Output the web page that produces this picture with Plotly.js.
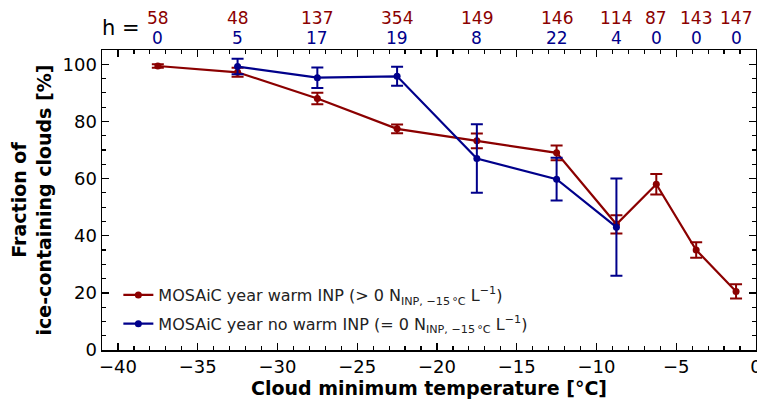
<!DOCTYPE html>
<html>
<head>
<meta charset="utf-8">
<script src="https://cdn.plot.ly/plotly-3.0.1.min.js"></script>
<style>html,body{margin:0;padding:0;background:#fff;}#plot{width:757px;height:405px;}</style>
</head>
<body>
<div id="plot"></div>
<script>
// Temperature bins (cloud minimum temperature, °C)
const tempWarm = [-37.5, -32.5, -27.5, -22.5, -17.5, -12.5, -8.75, -6.25, -3.75, -1.25];
const fracWarm = [99.4, 97.2, 88.0, 77.4, 73.2, 69.0, 44.0, 58.0, 35.0, 20.5];
const errWarm  = [0.6, 1.6, 2.0, 1.5, 2.6, 2.6, 3.2, 3.6, 2.7, 2.5];

const tempNoWarm = [-32.5, -27.5, -22.5, -17.5, -12.5, -8.75];
const fracNoWarm = [99.2, 95.3, 95.8, 67.0, 59.8, 43.0];
const errNoWarm  = [2.7, 3.6, 3.3, 12.0, 7.5, 17.0];

// Sample counts per bin (h)
const hTemps = [-37.5, -32.5, -27.5, -22.5, -17.5, -12.5, -8.75, -6.25, -3.75, -1.25];
const hWarm = [58, 48, 137, 354, 149, 146, 114, 87, 143, 147];
const hNoWarm = [0, 5, 17, 19, 8, 22, 4, 0, 0, 0];

const xTicks = [-40, -35, -30, -25, -20, -15, -10, -5, 0];
const yTicks = [0, 20, 40, 60, 80, 100];

const red = '#8b0000';
const blue = '#00008b';
const font = 'DejaVu Sans, sans-serif';
const xRange = [-41, 0.0005];
const yRange = [0, 105];

const traces = [
  {
    x: tempWarm, y: fracWarm, type: 'scatter', mode: 'lines+markers', legendgroup: 'a',
    name: 'MOSAiC year warm INP (&gt; 0 N<sub>INP, \u221215\u2009\u00b0C</sub> L<sup>\u22121</sup>)',
    line: {color: red, width: 2.2}, marker: {color: red, size: 7},
    error_y: {type: 'data', array: errWarm, visible: true, color: red, thickness: 2, width: 6}
  },
  {
    x: tempNoWarm, y: fracNoWarm, type: 'scatter', mode: 'lines+markers', legendgroup: 'b',
    name: 'MOSAiC year no warm INP (= 0 N<sub>INP, \u221215\u2009\u00b0C</sub> L<sup>\u22121</sup>)',
    line: {color: blue, width: 2.2}, marker: {color: blue, size: 7},
    error_y: {type: 'data', array: errNoWarm, visible: true, color: blue, thickness: 2, width: 6}
  },
  // invisible helper trace to activate the mirrored tick axes (top / right)
  {x: xRange, y: yRange, xaxis: 'x2', yaxis: 'y2', mode: 'markers', type: 'scatter',
   marker: {opacity: 0, size: 1}, showlegend: false, hoverinfo: 'skip'}
];

const annotations = [];
hTemps.forEach((t, i) => {
  annotations.push({x: t, y: 1.0, xref: 'x', yref: 'paper', yanchor: 'bottom', yshift: 20,
    text: String(hWarm[i]), showarrow: false, font: {family: font, size: 17, color: red}});
  annotations.push({x: t, y: 1.0, xref: 'x', yref: 'paper', yanchor: 'bottom', yshift: 0,
    text: String(hNoWarm[i]), showarrow: false, font: {family: font, size: 17, color: blue}});
});
annotations.push({x: 0, y: 1.0, xref: 'paper', yref: 'paper', xanchor: 'left', yanchor: 'bottom',
  xshift: -2, yshift: 8, text: 'h =', showarrow: false, font: {family: font, size: 21, color: '#000'}});

const tickCommon = {
  ticks: 'inside', ticklen: 7, tickwidth: 1.4, tickcolor: '#000',
  showline: true, linecolor: '#000', linewidth: 1.5,
  showgrid: false, zeroline: false, ticklabeloverflow: 'allow'
};
const minorX = {dtick: 1, ticks: 'inside', ticklen: 4, tickwidth: 1.2, tickcolor: '#000'};
const minorY = {dtick: 5, ticks: 'inside', ticklen: 4, tickwidth: 1.2, tickcolor: '#000'};

const layout = {
  width: 757, height: 405,
  margin: {l: 102, r: 1, t: 50, b: 55},
  paper_bgcolor: '#fff', plot_bgcolor: '#fff',
  font: {family: font, size: 15, color: '#000'},
  showlegend: true,
  legend: {x: 0.025, y: 0.03, xanchor: 'left', yanchor: 'bottom', bgcolor: 'rgba(255,255,255,0)',
    font: {family: font, size: 16, color: '#222'}, tracegroupgap: 5, itemwidth: 30},
  xaxis: Object.assign({}, tickCommon, {
    range: xRange, tickvals: xTicks, ticktext: xTicks.map(v => v < 0 ? '\u2212' + Math.abs(v) : String(v)),
    mirror: 'allticks', minor: minorX,
    tickfont: {family: font, size: 18, color: '#000'},
    title: {text: '<b>Cloud minimum temperature [\u00b0C]</b>', font: {family: font, size: 19, color: '#000'}, standoff: 4}
  }),
  yaxis: Object.assign({}, tickCommon, {
    range: yRange, tickvals: yTicks, mirror: 'allticks', minor: minorY,
    tickfont: {family: font, size: 18, color: '#000'},
    title: {text: '<b>Fraction of<br>ice-containing clouds [%]</b>', font: {family: font, size: 19, color: '#000'}, standoff: 6}
  }),
  xaxis2: Object.assign({}, tickCommon, {
    overlaying: 'x', side: 'top', anchor: 'y2', range: xRange, tickvals: xTicks, showticklabels: false, minor: minorX
  }),
  yaxis2: Object.assign({}, tickCommon, {
    overlaying: 'y', side: 'right', anchor: 'x2', range: yRange, tickvals: yTicks, showticklabels: false, minor: minorY
  }),
  annotations: annotations
};

Plotly.newPlot('plot', traces, layout, {displayModeBar: false, staticPlot: true});
</script>
</body>
</html>
